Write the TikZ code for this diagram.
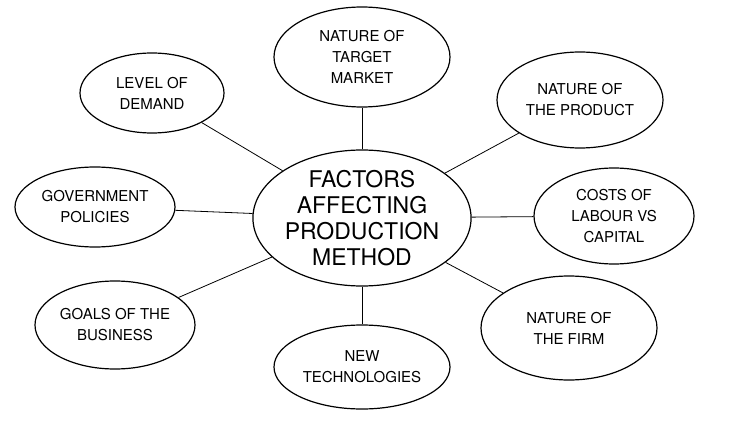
\documentclass[tikz,border=0pt]{standalone}
\usepackage{fontspec}
\setmainfont{TeX Gyre Heros}
\usetikzlibrary{shapes.geometric}
\begin{document}
\begin{tikzpicture}[x=1pt,y=-1pt,
  bub/.style={ellipse,draw,line width=1.2pt,inner sep=0pt,align=center,font=\fontsize{15}{21}\selectfont},
  link/.style={line width=0.8pt}]
\useasboundingbox (0,0) rectangle (754,422);
\node[bub,minimum width=200,minimum height=136,font=\fontsize{23}{26}\selectfont] (c) at (362,218) {FACTORS\\AFFECTING\\PRODUCTION\\METHOD};
\node[bub,minimum width=176,minimum height=100] (t) at (362,57) {NATURE OF\\TARGET\\MARKET};
\node[bub,minimum width=144,minimum height=80] (d) at (152,93) {LEVEL OF\\DEMAND};
\node[bub,minimum width=166,minimum height=96] (p) at (580,100) {NATURE OF\\THE PRODUCT};
\node[bub,minimum width=160,minimum height=80] (g) at (95,207) {GOVERNMENT\\POLICIES};
\node[bub,minimum width=160,minimum height=96] (l) at (614,216) {COSTS OF\\LABOUR VS\\CAPITAL};
\node[bub,minimum width=160,minimum height=88] (b) at (115,325) {GOALS OF THE\\BUSINESS};
\node[bub,minimum width=176,minimum height=84] (n) at (362,367) {NEW\\TECHNOLOGIES};
\node[bub,minimum width=176,minimum height=104] (f) at (569,328) {NATURE OF\\THE FIRM};
\foreach \o in {t,d,p,g,l,b,n,f} \draw[link] (c) -- (\o);
\end{tikzpicture}
\end{document}
